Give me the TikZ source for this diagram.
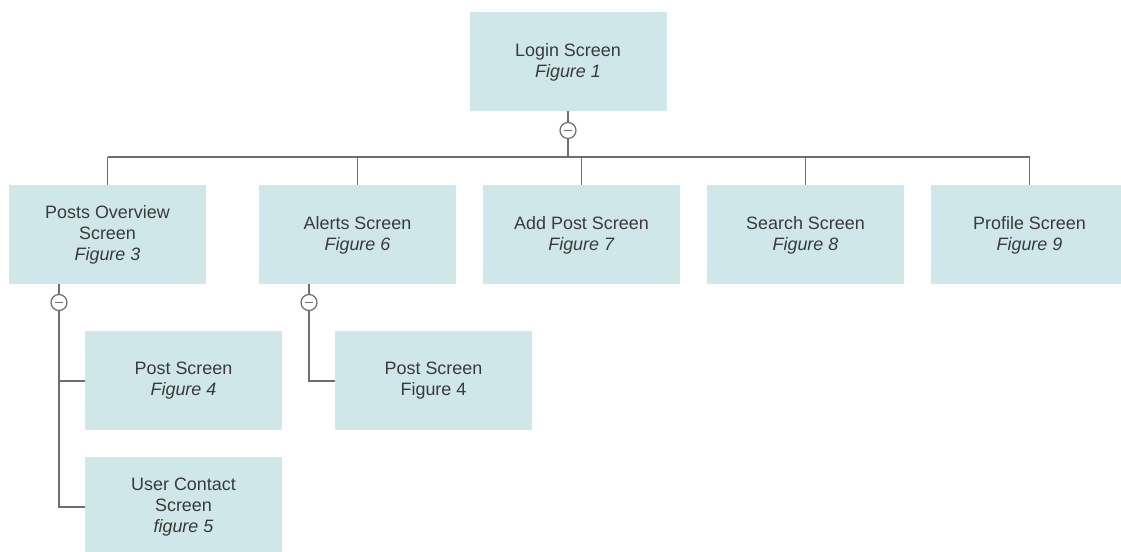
\documentclass[tikz,border=0pt]{standalone}
\usepackage{fontspec}
\setmainfont{Liberation Sans}
\usepackage{xcolor}
\usepackage{tikz}
\usetikzlibrary{positioning, calc}

\definecolor{boxfill}{HTML}{CFE7E9}
\definecolor{linegray}{HTML}{6E6E6E}
\definecolor{textgray}{HTML}{3A3A3A}

\begin{document}
\begin{tikzpicture}[
            screen/.style={rectangle, fill=boxfill, outer sep=0pt, minimum width=3.94cm, minimum height=1.98cm, align=center, text=textgray, font=\fontsize{10.2}{12}\selectfont},
            link/.style={draw=linegray, line width=0.7pt},
            toggle/.style={circle, draw=linegray, line width=0.7pt, fill=white, minimum size=0.32cm, inner sep=0pt,
                path picture={\draw[linegray, line width=0.8pt] ([xshift=-0.08cm]path picture bounding box.center) -- ([xshift=0.08cm]path picture bounding box.center);}}
        ]
        \useasboundingbox (0,0) rectangle (22.42,-11.04);

        % --- Root ---
        \node[screen] (login) at (11.36,-1.24) {Login Screen\\\textit{Figure 1}};

        % --- First level ---
        \node[screen] (posts) at (2.15,-4.70) {Posts Overview\\Screen\\\textit{Figure 3}};
        \node[screen, right=1.06cm of posts] (alerts) {Alerts Screen\\\textit{Figure 6}};
        \node[screen, right=0.54cm of alerts] (addpost) {Add Post Screen\\\textit{Figure 7}};
        \node[screen, right=0.54cm of addpost] (search) {Search Screen\\\textit{Figure 8}};
        \node[screen, right=0.54cm of search] (profile) {Profile Screen\\\textit{Figure 9}};

        % --- Second level ---
        \node[screen, anchor=north west] (post_a) at ($(posts.south west)+(1.52,-0.94)$) {Post Screen\\\textit{Figure 4}};
        \node[screen, below=0.54cm of post_a] (contact) {User Contact\\Screen\\\textit{figure 5}};
        \node[screen, anchor=north west] (post_b) at ($(alerts.south west)+(1.52,-0.94)$) {Post Screen\\Figure 4};

        % --- Collapse toggles ---
        \coordinate (bus) at (0,-3.14);
        \coordinate (t_login) at ($(login.south)+(0,-0.38)$);
        \coordinate (t_posts) at ($(posts.south west)+(1.0,-0.36)$);
        \coordinate (t_alerts) at ($(alerts.south west)+(1.0,-0.36)$);

        % --- Connectors ---
        \draw[link] (login.south) -- (login.south |- bus);
        \draw[link] (posts.north |- bus) -- (profile.north |- bus);
        \foreach \n in {posts, alerts, addpost, search, profile}
            \draw[link] (\n.north |- bus) -- (\n.north);

        \draw[link] (t_posts |- posts.south) -- (t_posts);
        \draw[link] (t_posts) |- (post_a.west);
        \draw[link] (t_posts) |- (contact.west);

        \draw[link] (t_alerts |- alerts.south) -- (t_alerts);
        \draw[link] (t_alerts) |- (post_b.west);

        % --- Toggles on top ---
        \node[toggle] (tog_login) at (t_login) {};
        \node[toggle] (tog_posts) at (t_posts) {};
        \node[toggle] (tog_alerts) at (t_alerts) {};

\end{tikzpicture}
\end{document}
